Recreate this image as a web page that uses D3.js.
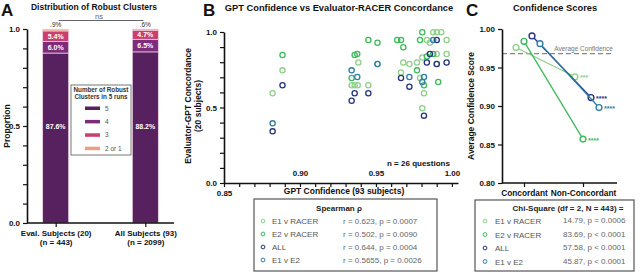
<!DOCTYPE html>
<html>
<head>
<meta charset="utf-8">
<script src="https://cdn.jsdelivr.net/npm/d3@7"></script>
<style>
  body { margin: 0; background: #fff; }
  svg { display: block; font-family: "Liberation Sans", Arial, sans-serif; }
</style>
</head>
<body>
<svg id="svg" width="640" height="272"></svg>
<script>
// ---- panel A data
const clusterLevels = ["5", "4", "3", "2 or 1"];
const clusterColors = ["#57215f", "#7d2b7b", "#c9406f", "#ee9f7f"];
const subjectGroups = ["Eval. Subjects (20)", "All Subjects (93)"];
const groupSizes = ["(n = 443)", "(n = 2099)"];
const evalShares = [87.6, 6.0, 5.4, 0.9];
const allShares = [88.2, 6.5, 4.7, 0.6];

// ---- panel B data
const seriesNames = ["E1 v RACER", "E2 v RACER", "ALL", "E1 v E2"];
const seriesColors = ["#8fd08a", "#3dba5c", "#27337f", "#2f7ea8"];
const e1RacerPts = [[0.882, 0.594], [0.8885, 0.746], [0.934, 0.647], [0.936, 0.647], [0.938, 0.647],
  [0.9384, 0.798], [0.945, 0.647], [0.951, 0.788], [0.9665, 0.732], [0.968, 0.798], [0.972, 0.788],
  [0.977, 0.798], [0.979, 0.695], [0.9805, 0.831], [0.9816, 0.594], [0.9805, 0.495], [0.9835, 0.947],
  [0.9855, 0.929], [0.9877, 0.998], [0.990, 0.998], [0.990, 0.854], [0.990, 0.788], [0.993, 0.998],
  [0.9965, 0.947], [0.9965, 0.854]];
const e2RacerPts = [[0.8885, 0.848], [0.934, 0.695], [0.936, 0.848], [0.9377, 0.854], [0.945, 0.947],
  [0.951, 0.929], [0.964, 0.947], [0.9665, 0.947], [0.968, 0.899], [0.977, 0.746], [0.979, 0.947],
  [0.9805, 0.998], [0.9816, 0.647], [0.9835, 0.838], [0.9877, 0.854], [0.991, 0.669]];
const allPts = [[0.882, 0.342], [0.8885, 0.647], [0.934, 0.545], [0.936, 0.594], [0.945, 0.594],
  [0.9665, 0.695], [0.972, 0.638], [0.9816, 0.446], [0.9835, 0.798], [0.9855, 0.854], [0.990, 0.788],
  [0.9965, 0.798], [0.990, 0.947]];
const e1E2Pts = [[0.882, 0.395], [0.934, 0.746], [0.9377, 0.702], [0.951, 0.788], [0.972, 0.702],
  [0.9816, 0.702], [0.9805, 0.669], [0.9877, 0.947]];
const spearmanStats = ["r = 0.623, p = 0.0007", "r = 0.502, p = 0.0090", "r = 0.644, p = 0.0004", "r = 0.5655, p  = 0.0026"];

// ---- panel C data
const concordCats = ["Concordant", "Non-Concordant"];
const confE1Racer = [0.976, 0.938];
const confE2Racer = [0.984, 0.857];
const confAll = [0.991, 0.911];
const confE1E2 = [0.981, 0.898];
const starLabels = ["***", "****", "****", "****"];
const avgConfidence = 0.968;
const chiStats = ["14.79, p = 0.0006", "83.69, p < 0.0001", "57.58, p < 0.0001", "45.87, p < 0.0001"];

let svg = d3.select("#svg");

function styleAxis(g, size) {
  g.select(".domain").attr("stroke", "#111").attr("stroke-width", 1.6);
  g.selectAll(".tick line").attr("stroke", "#111").attr("stroke-width", 1.2);
  g.selectAll(".tick text").attr("fill", "#111").attr("font-weight", "bold")
    .attr("font-size", size || 8).attr("font-family", "Liberation Sans, Arial, sans-serif");
}

function boldText(x, y, txt, size, anchor) {
  return svg.append("text").attr("x", x).attr("y", y).attr("text-anchor", anchor || "middle")
    .attr("font-weight", "bold").attr("font-size", size).attr("fill", "#111").text(txt);
}

// ================= A =================
let yA = d3.scaleLinear().domain([0, 1]).range([223, 29]);
let xA = d3.scalePoint().domain(subjectGroups).range([27, 174]).padding(0.32);
let barW = 26;

let stackRows = [];
[evalShares, allShares].forEach((shares, g) => {
  let acc = 0;
  shares.forEach((v, k) => {
    stackRows.push({group: subjectGroups[g], level: k, value: v, v0: acc / 100, v1: (acc + v) / 100});
    acc += v;
  });
});

svg.append("g").selectAll("rect").data(stackRows).join("rect")
  .attr("x", d => xA(d.group) - barW / 2)
  .attr("y", d => yA(d.v1))
  .attr("width", barW)
  .attr("height", d => yA(d.v0) - yA(d.v1))
  .attr("fill", d => clusterColors[d.level])
  .attr("stroke", "#f2d6e4")
  .attr("stroke-width", 0.7);

let pct = v => (v < 1 ? d3.format(".1f")(v).replace(/^0/, "") : d3.format(".1f")(v)) + "%";
svg.append("g").selectAll("text").data(stackRows).join("text")
  .attr("x", d => xA(d.group))
  .attr("y", d => d.level === 0 ? yA(0.5) + 2.5 : d.level === 3 ? yA(d.v1) - 2 : yA((d.v0 + d.v1) / 2) + 2.5)
  .attr("text-anchor", "middle")
  .attr("font-size", d => d.level === 3 ? 6.5 : 7)
  .attr("font-weight", d => d.level === 3 ? "normal" : "bold")
  .attr("fill", d => d.level === 3 ? "#333" : "#fff")
  .text(d => pct(d.value));

let yAxisA = svg.append("g").attr("transform", "translate(27,0)")
  .call(d3.axisLeft(yA).tickValues(d3.range(0, 11).map(d => d / 10)).tickSize(4).tickSizeOuter(0)
    .tickFormat(d => [0, 5, 10].includes(Math.round(d * 10)) ? d3.format(".1f")(d) : ""));
styleAxis(yAxisA);

let xAxisA = svg.append("g").attr("transform", `translate(0,${yA(0)})`)
  .call(d3.axisBottom(xA).tickSize(4).tickSizeOuter(0));
xAxisA.select(".domain").remove();
xAxisA.append("line").attr("x1", 27).attr("x2", 174).attr("stroke", "#111").attr("stroke-width", 1.6);
styleAxis(xAxisA);
xAxisA.selectAll(".tick text").each(function(d, i) {
  let t = d3.select(this).text(null).attr("y", 7);
  t.append("tspan").attr("x", 0).attr("dy", "0.71em").text(d);
  t.append("tspan").attr("x", 0).attr("dy", "1.2em").text(groupSizes[i]);
});

svg.append("text").attr("transform", "translate(10,126) rotate(-90)").attr("text-anchor", "middle")
  .attr("font-weight", "bold").attr("font-size", 8.5).attr("fill", "#111").text("Proportion");

boldText(1, 16, "A", 17, "start");
boldText(94, 10, "Distribution of Robust Clusters", 8.5);

// ns bracket
svg.append("line").attr("x1", xA(subjectGroups[0]) + 3).attr("x2", xA(subjectGroups[1]) - 2)
  .attr("y1", 20.5).attr("y2", 20.5).attr("stroke", "#555").attr("stroke-width", 0.9);
svg.append("text").attr("x", 99).attr("y", 18.5).attr("text-anchor", "middle")
  .attr("font-size", 7.5).attr("fill", "#666").text("ns");

// legend A
let legA = svg.append("g");
legA.append("rect").attr("x", 71).attr("y", 85).attr("width", 60).attr("height", 70)
  .attr("fill", "#fff").attr("stroke", "#777").attr("stroke-width", 1);
legA.append("text").attr("x", 101).attr("y", 92).attr("text-anchor", "middle")
  .attr("font-weight", "bold").attr("font-size", 6.3).attr("fill", "#333").text("Number of Robust");
legA.append("text").attr("x", 101).attr("y", 99).attr("text-anchor", "middle")
  .attr("font-weight", "bold").attr("font-size", 6.3).attr("fill", "#333").text("Clusters in 5 runs");
legA.selectAll(".sw").data(clusterLevels).join("rect").attr("class", "sw")
  .attr("x", 85).attr("y", (d, i) => 106.5 + i * 13.4).attr("width", 15).attr("height", 3.5)
  .attr("fill", (d, i) => clusterColors[i]);
legA.selectAll(".lt").data(clusterLevels).join("text").attr("class", "lt")
  .attr("x", 105).attr("y", (d, i) => 110.5 + i * 13.4).attr("font-size", 6.5).attr("fill", "#555")
  .text(d => d);

// ================= B =================
let xB = d3.scaleLinear().domain([0.85, 1.004]).range([224, 458]);
let yB = d3.scaleLinear().domain([0, 1]).range([183, 32]);

let scatterSeries = [e1RacerPts, e2RacerPts, allPts, e1E2Pts];
scatterSeries.forEach((pts, s) => {
  svg.append("g").selectAll("circle").data(pts).join("circle")
    .attr("cx", d => xB(d[0]))
    .attr("cy", d => yB(d[1]))
    .attr("r", 2.6)
    .attr("fill", "none")
    .attr("stroke", seriesColors[s])
    .attr("stroke-width", 1.3);
});

let yAxisB = svg.append("g").attr("transform", `translate(${xB(0.85)},0)`)
  .call(d3.axisLeft(yB).tickValues(d3.range(0, 11).map(d => d / 10)).tickSize(4).tickSizeOuter(0)
    .tickFormat(d => [0, 5, 10].includes(Math.round(d * 10)) ? d3.format(".1f")(d) : ""));
styleAxis(yAxisB);

let xAxisB = svg.append("g").attr("transform", `translate(0,${yB(0)})`)
  .call(d3.axisBottom(xB).tickValues(d3.range(85, 101).map(d => d / 100)).tickSize(4).tickSizeOuter(0)
    .tickFormat(d => Math.round(d * 100) % 5 === 0 ? d3.format(".2f")(d) : ""));
styleAxis(xAxisB);
xAxisB.selectAll(".tick text").filter(d => d > 0.86).attr("y", -13);

boldText(344, 194, "GPT Confidence (93 subjects)", 8.5);
svg.append("text").attr("transform", "translate(191,106) rotate(-90)").attr("text-anchor", "middle")
  .attr("font-weight", "bold").attr("font-size", 8.5).attr("fill", "#111").text("Evaluator-GPT Concordance");
svg.append("text").attr("transform", "translate(201,106) rotate(-90)").attr("text-anchor", "middle")
  .attr("font-weight", "bold").attr("font-size", 8.5).attr("fill", "#111").text("(20 subjects)");
boldText(387, 166, "n = 26 questions", 8, "start");

boldText(203, 16, "B", 17, "start");
boldText(339, 11, "GPT Confidence vs Evaluator-RACER Concordance", 9.3);

// legend B
let legB = svg.append("g");
legB.append("rect").attr("x", 254).attr("y", 199).attr("width", 183).attr("height", 72)
  .attr("fill", "#fff").attr("stroke", "#555").attr("stroke-width", 1.2);
legB.append("text").attr("x", 339).attr("y", 211).attr("text-anchor", "middle")
  .attr("font-weight", "bold").attr("font-size", 8).attr("fill", "#222").text("Spearman \u03c1");
seriesNames.forEach((name, i) => {
  let ry = 221 + i * 13;
  legB.append("circle").attr("cx", 263).attr("cy", ry).attr("r", 1.9).attr("fill", "none")
    .attr("stroke", seriesColors[i]).attr("stroke-width", 1);
  legB.append("text").attr("x", 272).attr("y", ry + 3).attr("font-size", 8).attr("fill", "#555").text(name);
  legB.append("text").attr("x", 343).attr("y", ry + 3).attr("font-size", 8).attr("fill", "#666").text(spearmanStats[i]);
});

// ================= C =================
let yC = d3.scaleLinear().domain([0.80, 1.00]).range([183, 29]);
let xC = d3.scalePoint().domain(concordCats).range([524, 583]);
let offC = i => (i - 1) * 8;

svg.append("line").attr("x1", 502).attr("x2", 613)
  .attr("y1", yC(avgConfidence)).attr("y2", yC(avgConfidence))
  .attr("stroke", "#888").attr("stroke-width", 1.3).attr("stroke-dasharray", "5,3");
svg.append("text").attr("x", 613).attr("y", yC(avgConfidence) - 3).attr("text-anchor", "end")
  .attr("font-size", 6.5).attr("fill", "#777").text("Average Confidence");

let confSeries = [confE1Racer, confE2Racer, confAll, confE1E2];
confSeries.forEach((vals, s) => {
  let pts = vals.map((v, k) => [xC(concordCats[k]) + offC(s), yC(v)]);
  svg.append("path").attr("d", d3.line()(pts)).attr("fill", "none")
    .attr("stroke", seriesColors[s]).attr("stroke-width", 1.3);
  svg.append("g").selectAll("circle").data(pts).join("circle")
    .attr("cx", d => d[0]).attr("cy", d => d[1]).attr("r", 2.9)
    .attr("fill", "#fff").attr("stroke", seriesColors[s]).attr("stroke-width", 1.4);
  svg.append("text").attr("x", pts[1][0] + 5).attr("y", pts[1][1] + 3.5)
    .attr("font-size", 7).attr("font-weight", "bold").attr("fill", seriesColors[s]).text(starLabels[s]);
});

let yAxisC = svg.append("g").attr("transform", "translate(502,0)")
  .call(d3.axisLeft(yC).tickValues([0.80, 0.85, 0.90, 0.95, 1.00]).tickSize(4).tickSizeOuter(0)
    .tickFormat(d3.format(".2f")));
styleAxis(yAxisC);

let xAxisC = svg.append("g").attr("transform", `translate(0,${yC(0.80)})`)
  .call(d3.axisBottom(xC).tickSize(4).tickSizeOuter(0));
xAxisC.select(".domain").remove();
xAxisC.append("line").attr("x1", 502).attr("x2", 617).attr("stroke", "#111").attr("stroke-width", 1.6);
styleAxis(xAxisC, 8.3);

svg.append("text").attr("transform", "translate(474,106) rotate(-90)").attr("text-anchor", "middle")
  .attr("font-weight", "bold").attr("font-size", 8.5).attr("fill", "#111").text("Average Confidence Score");

boldText(466, 16, "C", 17, "start");
boldText(555, 11, "Confidence Scores", 9.3);

// legend C
let legC = svg.append("g");
legC.append("rect").attr("x", 475).attr("y", 200).attr("width", 159).attr("height", 71)
  .attr("fill", "#fff").attr("stroke", "#555").attr("stroke-width", 1.2);
legC.append("text").attr("x", 568).attr("y", 211).attr("text-anchor", "middle")
  .attr("font-weight", "bold").attr("font-size", 8).attr("fill", "#222").text("Chi-Square (df = 2, N = 443) =");
seriesNames.forEach((name, i) => {
  let ry = 221 + i * 13.5;
  legC.append("circle").attr("cx", 485).attr("cy", ry).attr("r", 1.9).attr("fill", "none")
    .attr("stroke", seriesColors[i]).attr("stroke-width", 1);
  legC.append("text").attr("x", 495).attr("y", ry + 3).attr("font-size", 8).attr("fill", "#555").text(name);
  legC.append("text").attr("x", 563).attr("y", ry + 2).attr("font-size", 8).attr("fill", "#666").text(chiStats[i]);
});
</script>
</body>
</html>
